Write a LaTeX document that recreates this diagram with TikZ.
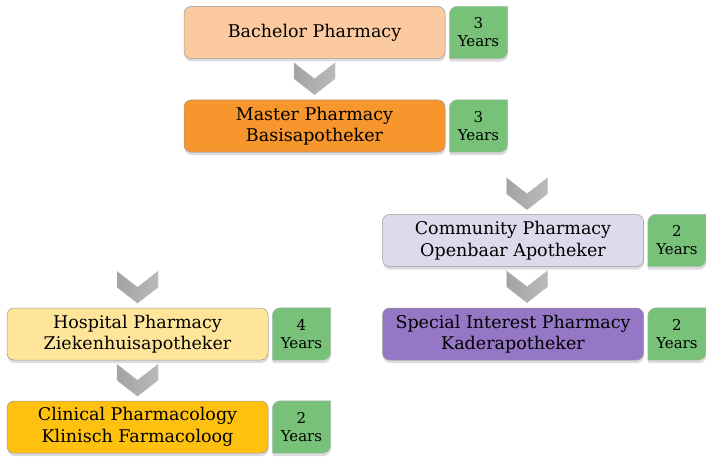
\documentclass[tikz,border=0pt]{standalone}
\usepackage{fontspec}
\setmainfont{DejaVu Serif}
\usetikzlibrary{positioning,shadows,backgrounds}
\definecolor{bachpeach}{RGB}{251,202,160}
\definecolor{mastorange}{RGB}{247,150,45}
\definecolor{commlilac}{RGB}{222,218,236}
\definecolor{specpurple}{RGB}{149,119,197}
\definecolor{hospyellow}{RGB}{255,229,153}
\definecolor{clingold}{RGB}{255,193,15}
\definecolor{yeargreen}{RGB}{119,193,121}

\tikzset{
  chevron/.pic={
    \shade[left color=black!36, middle color=black!14, right color=black!27,
        draw=black!25, line width=0.3pt]
      (-20.5,0) -- (0,-16) -- (20.5,0) -- (20.5,-16) -- (0,-32) -- (-20.5,-16) -- cycle;
  }
}

\begin{document}
\begin{tikzpicture}[x=1pt, y=1pt,
    boxshadow/.style={drop shadow={shadow xshift=0.5pt, shadow yshift=-3pt, opacity=0.28}},
    stage/.style={draw=black!40, line width=0.5pt, rounded corners=7pt, boxshadow,
      minimum width=261pt, minimum height=52pt, inner sep=0pt, align=center,
      font=\fontsize{17.5}{21.5}\selectfont},
    years/.style={minimum width=58pt, minimum height=52pt, inner sep=0pt, align=center,
      font=\fontsize{15}{18}\selectfont}
  ]
  \useasboundingbox (0,0) rectangle (706,456);

  % study stages
  \node[stage, fill=bachpeach] (bach) at (314.5,423.5) {Bachelor Pharmacy};
  \node[stage, fill=mastorange] (mast) at (314.5,330) {Master Pharmacy\\Basisapotheker};
  \node[stage, fill=commlilac] (comm) at (513,215.5) {Community Pharmacy\\Openbaar Apotheker};
  \node[stage, fill=specpurple] (spec) at (513,122) {Special Interest Pharmacy\\Kaderapotheker};
  \node[stage, fill=hospyellow] (hosp) at (137.5,122) {Hospital Pharmacy\\Ziekenhuisapotheker};
  \node[stage, fill=clingold] (clin) at (137.5,29) {Clinical Pharmacology\\Klinisch Farmacoloog};

  % duration tags
  \node[years, right=4pt of bach] (ybach) {3\\Years};
  \node[years, right=4pt of mast] (ymast) {3\\Years};
  \node[years, right=4pt of comm] (ycomm) {2\\Years};
  \node[years, right=4pt of spec] (yspec) {2\\Years};
  \node[years, right=4pt of hosp] (yhosp) {4\\Years};
  \node[years, right=4pt of clin] (yclin) {2\\Years};

  \begin{scope}[on background layer]
    \foreach \n in {ybach,ymast,ycomm,yspec,yhosp,yclin}
      \fill[yeargreen, draw=black!30, line width=0.4pt, boxshadow]
        (\n.north east) -- ([yshift=8pt]\n.south east)
        arc[start angle=0, end angle=-90, radius=8pt]
        -- (\n.south west) -- ([yshift=-8pt]\n.north west)
        arc[start angle=180, end angle=90, radius=8pt] -- cycle;
  \end{scope}

  % chevrons between stages
  \pic at ([yshift=-4pt]bach.south) {chevron};
  \pic at ([xshift=14pt, yshift=36.5pt]comm.north) {chevron};
  \pic at ([xshift=14pt, yshift=-4pt]comm.south) {chevron};
  \pic at ([yshift=36.5pt]hosp.north) {chevron};
  \pic at ([yshift=-4pt]hosp.south) {chevron};
\end{tikzpicture}
\end{document}
